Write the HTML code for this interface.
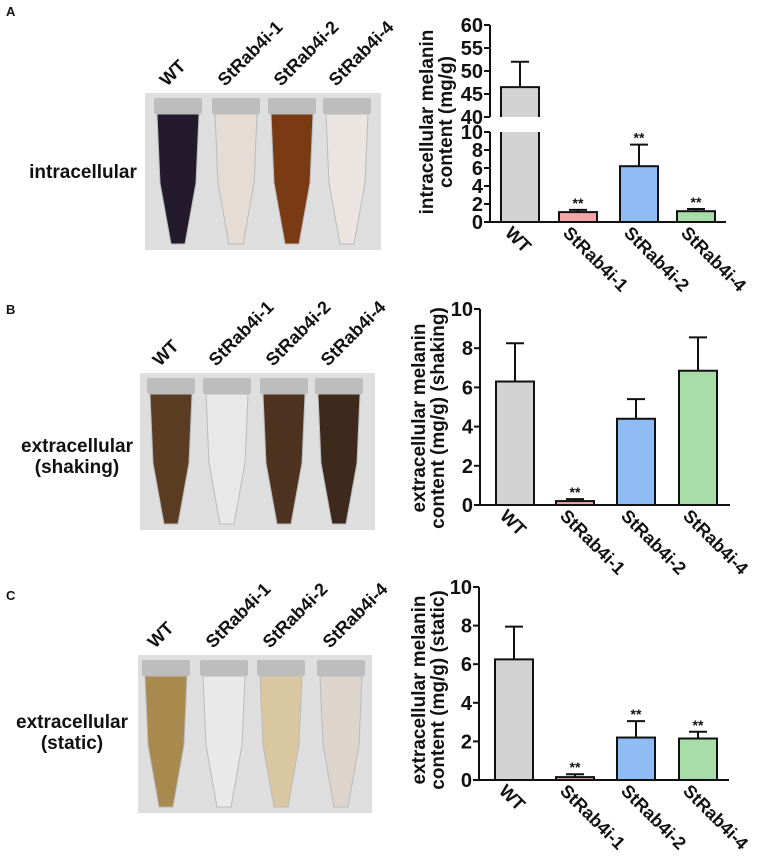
<!DOCTYPE html>
<html><head><meta charset="utf-8"><style>
body{margin:0;background:#fff;}
svg{display:block;font-family:"Liberation Sans",Arial,sans-serif;}
text{font-weight:bold;fill:#111;}
</style></head><body>
<svg id="fig" width="767" height="858" viewBox="0 0 767 858">
<g id="photos"></g>
<g id="charts"></g>
</svg>
<script>
const categories = ["WT","StRab4i-1","StRab4i-2","StRab4i-4"];
const valuesA = [46.5, 1.1, 6.2, 1.2];
const errorsA = [5.5, 0.25, 2.4, 0.25];
const sigA = ["", "**", "**", "**"];
const valuesB = [6.3, 0.2, 4.4, 6.85];
const errorsB = [1.95, 0.1, 1.0, 1.7];
const sigB = ["", "**", "", ""];
const valuesC = [6.25, 0.15, 2.2, 2.15];
const errorsC = [1.7, 0.15, 0.85, 0.35];
const sigC = ["", "**", "**", "**"];
const ticksLowA = [0,2,4,6,8,10];
const ticksHighA = [40,45,50,55,60];
const ticks10 = [0,2,4,6,8,10];

const NS = "http://www.w3.org/2000/svg";
const fills = ["#d3d3d3","#f4a6a6","#8fbcf4","#a8dca8"];
function el(tag, attrs, parent, txt){
  const e = document.createElementNS(NS, tag);
  for (const k in attrs) e.setAttribute(k, attrs[k]);
  if (txt !== undefined) e.textContent = txt;
  parent.appendChild(e);
  return e;
}
const charts = document.getElementById('charts');
const photos = document.getElementById('photos');

function chart(cfg){
  const g = el('g', {}, charts);
  
  
  const ax = cfg.axisX, y0 = cfg.y0;
  const ymap = v => {
    if (cfg.brk && v > cfg.brk.lowMax) return cfg.brk.hiY0 - (v - cfg.brk.hiMin) * cfg.brk.hiScale;
    return y0 - v * cfg.scale;
  };
  if (cfg.brk) {
    const ya = el('line', {x1:ax,x2:ax,y1:ymap(cfg.brk.lowMax),y2:y0,stroke:'#111','stroke-width':2}, g);
     
    const yb = el('line', {x1:ax,x2:ax,y1:ymap(cfg.brk.hiMax),y2:cfg.brk.hiY0,stroke:'#111','stroke-width':2}, g);
     
  } else {
    const ya = el('line', {x1:ax,x2:ax,y1:ymap(10),y2:y0,stroke:'#111','stroke-width':2}, g);
     
  }
  const xa = el('line', {x1:ax,x2:cfg.axisEnd,y1:y0,y2:y0,stroke:'#111','stroke-width':2}, g);
   
  cfg.ticks.forEach(t => {
    const y = ymap(t);
    el('line', {x1:ax-6,x2:ax,y1:y,y2:y,stroke:'#111','stroke-width':2}, g);
    const tl = el('text', {x:ax-7,y:y+7,'text-anchor':'end','font-size':20}, g, String(t));
     
  });
  cfg.values.forEach((v,i) => {
    const x = cfg.barX[i], w = cfg.barW;
    const cx = x + w/2;
    const top = ymap(v), errTop = ymap(v + cfg.errors[i]);
    const eb = el('line', {x1:cx,x2:cx,y1:top,y2:errTop,stroke:'#111','stroke-width':2}, g);
     
    el('line', {x1:cx-9,x2:cx+9,y1:errTop,y2:errTop,stroke:'#111','stroke-width':2}, g);
    if (cfg.brk && v > cfg.brk.lowMax) {
      const hb = cfg.brk.hiY0, lt = ymap(cfg.brk.lowMax);
      el('rect', {x:x,y:top,width:w,height:y0-top,fill:fills[i]}, g);
      const b1 = el('path', {d:`M${x},${hb} L${x},${top} L${x+w},${top} L${x+w},${hb}`,fill:'none',stroke:'#111','stroke-width':2}, g);
       
      const b2 = el('path', {d:`M${x},${lt} L${x},${y0} L${x+w},${y0} L${x+w},${lt}`,fill:'none',stroke:'#111','stroke-width':2}, g);
       
      el('rect', {x:x-2,y:hb,width:w+4,height:lt-hb,fill:'#fff'}, g);
    } else {
      const b = el('rect', {x:x,y:top,width:w,height:y0-top,fill:fills[i],stroke:'#111','stroke-width':2}, g);
       
    }
    if (cfg.sig[i]) {
      const s = el('text', {x:cx,y:errTop-2,'text-anchor':'middle','font-size':14,'font-weight':'normal'}, g, cfg.sig[i]);
       
    }
    const lx = cx - 16, ly = y0 + 12;
    const xl = el('text', {x:lx,y:ly,'font-size':18,transform:`rotate(45 ${lx} ${ly})`}, g, categories[i]);
     
  });
  const tcy = cfg.titleY;
  cfg.title.forEach((line, k) => {
    const tx = cfg.titleX + k*19;
    const t = el('text', {x:tx,y:tcy,'text-anchor':'middle','font-size':19,transform:`rotate(-90 ${tx} ${tcy})`}, g, line);
     
  });
}

chart({name:'chart-intracellular', axisX:490, axisEnd:726, y0:222, scale:9.0,
  brk:{lowMax:10, hiMin:40, hiMax:60, hiY0:117, hiScale:4.6},
  ticks:[...ticksLowA, ...ticksHighA], values:valuesA, errors:errorsA, sig:sigA,
  barX:[501,559,620,677], barW:38, title:["intracellular melanin","content (mg/g)"], titleX:433, titleY:122});
chart({name:'chart-extracellular-shaking', axisX:480, axisEnd:730, y0:505, scale:19.6,
  ticks:ticks10, values:valuesB, errors:errorsB, sig:sigB,
  barX:[496,556,617,679], barW:38, title:["extracellular melanin","content (mg/g) (shaking)"], titleX:425, titleY:418});
chart({name:'chart-extracellular-static', axisX:479, axisEnd:729, y0:780, scale:19.3,
  ticks:ticks10, values:valuesC, errors:errorsC, sig:sigC,
  barX:[495,556,617,679], barW:38, title:["extracellular melanin","content (mg/g) (static)"], titleX:425, titleY:690});

function panel(p){
  const g = el('g', {}, photos);
  
  
  const pl = el('text', {x:6,y:p.letterY,'font-size':13}, g, p.letter);
   
  const bg = el('rect', {x:p.x,y:p.y,width:p.w,height:p.h,fill:'#dedede'}, g);
   
  p.tubes.forEach((tx,i) => {
    const tw = 42, top = p.y+5, bot = p.y+p.h-6;
    el('rect', {x:tx-3,y:top,width:tw+6,height:16,fill:'#bdbdbd',rx:2}, g);
    const path = `M${tx},${top+16} L${tx+tw},${top+16} L${tx+tw-3},${top+85} L${tx+tw/2+7},${bot} L${tx+tw/2-7},${bot} L${tx+3},${top+85} Z`;
    const t = el('path', {d:path,fill:p.colors[i],stroke:'#bbb'}, g);
     
    const lx = tx+10, ly = p.y-6;
    const lab = el('text', {x:lx,y:ly,'font-size':18,transform:`rotate(-45 ${lx} ${ly})`}, g, categories[i]);
     
  });
  p.label.forEach((line,k) => {
    const t = el('text', {x:p.labelX,y:p.labelY+k*21,'text-anchor':'middle','font-size':19}, g, line);
     
  });
}
panel({name:'panel-a', letter:'A', letterY:16, x:145,y:93,w:236,h:157, tubes:[157,215,271,326],
  colors:['#231b2c','#e6dcd6','#7a3a14','#ece4e0'], label:['intracellular'], labelX:83, labelY:178});
panel({name:'panel-b', letter:'B', letterY:314, x:140,y:373,w:235,h:157, tubes:[150,206,263,318],
  colors:['#5a3d22','#e8e8e8','#4e3320','#3e2a1c'], label:['extracellular','(shaking)'], labelX:77, labelY:452});
panel({name:'panel-c', letter:'C', letterY:600, x:138,y:655,w:234,h:158, tubes:[145,203,260,320],
  colors:['#a88a4e','#e9e9e9','#d8c7a0','#ddd4cc'], label:['extracellular','(static)'], labelX:72, labelY:728});
</script>
</body></html>
